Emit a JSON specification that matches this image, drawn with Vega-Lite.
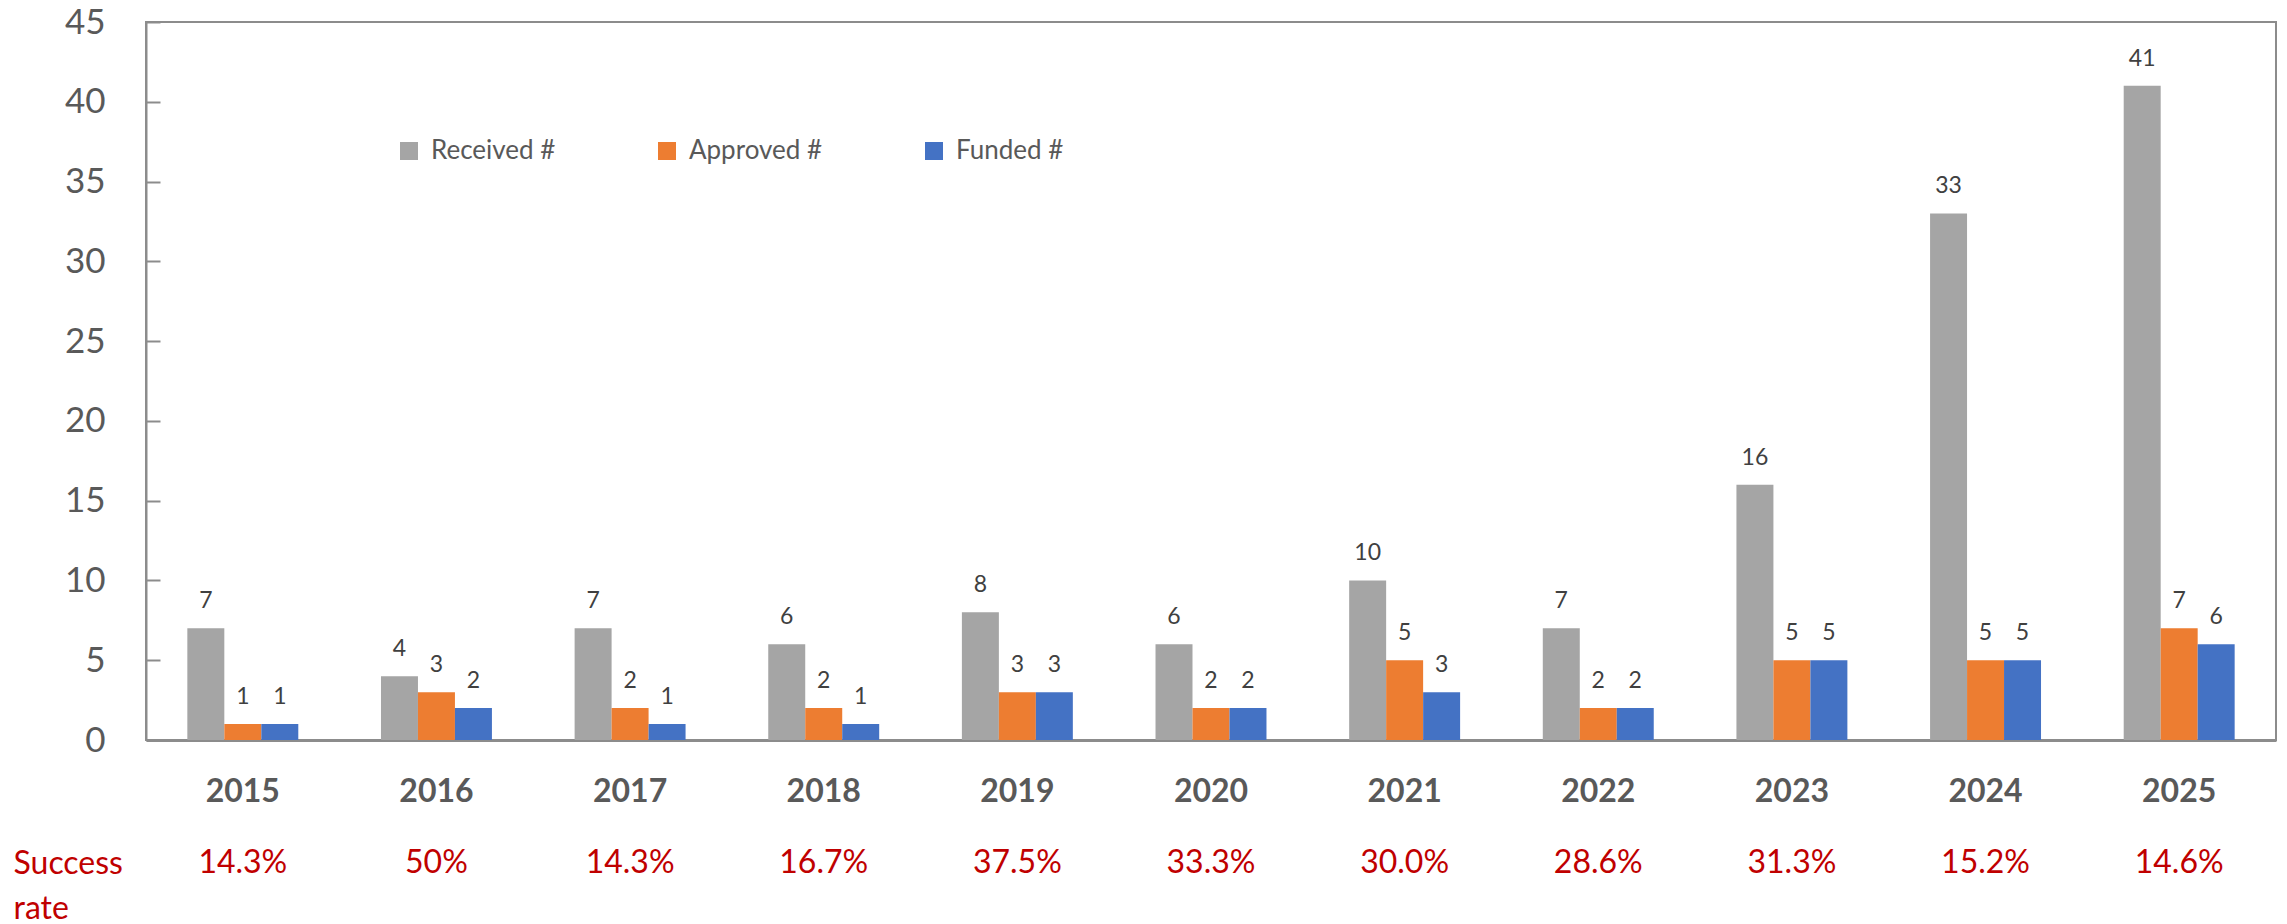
{
  "$schema": "https://vega.github.io/schema/vega-lite/v6.json",
  "padding": {"left": 13, "top": 4, "right": 5, "bottom": 2},
  "background": "white",
  "config": {"font": "Lato", "view": {"stroke": null}},
  "datasets": {
    "counts": [
      {"Year": "2015", "Series": "Received #", "Count": 7},
      {"Year": "2015", "Series": "Approved #", "Count": 1},
      {"Year": "2015", "Series": "Funded #", "Count": 1},
      {"Year": "2016", "Series": "Received #", "Count": 4},
      {"Year": "2016", "Series": "Approved #", "Count": 3},
      {"Year": "2016", "Series": "Funded #", "Count": 2},
      {"Year": "2017", "Series": "Received #", "Count": 7},
      {"Year": "2017", "Series": "Approved #", "Count": 2},
      {"Year": "2017", "Series": "Funded #", "Count": 1},
      {"Year": "2018", "Series": "Received #", "Count": 6},
      {"Year": "2018", "Series": "Approved #", "Count": 2},
      {"Year": "2018", "Series": "Funded #", "Count": 1},
      {"Year": "2019", "Series": "Received #", "Count": 8},
      {"Year": "2019", "Series": "Approved #", "Count": 3},
      {"Year": "2019", "Series": "Funded #", "Count": 3},
      {"Year": "2020", "Series": "Received #", "Count": 6},
      {"Year": "2020", "Series": "Approved #", "Count": 2},
      {"Year": "2020", "Series": "Funded #", "Count": 2},
      {"Year": "2021", "Series": "Received #", "Count": 10},
      {"Year": "2021", "Series": "Approved #", "Count": 5},
      {"Year": "2021", "Series": "Funded #", "Count": 3},
      {"Year": "2022", "Series": "Received #", "Count": 7},
      {"Year": "2022", "Series": "Approved #", "Count": 2},
      {"Year": "2022", "Series": "Funded #", "Count": 2},
      {"Year": "2023", "Series": "Received #", "Count": 16},
      {"Year": "2023", "Series": "Approved #", "Count": 5},
      {"Year": "2023", "Series": "Funded #", "Count": 5},
      {"Year": "2024", "Series": "Received #", "Count": 33},
      {"Year": "2024", "Series": "Approved #", "Count": 5},
      {"Year": "2024", "Series": "Funded #", "Count": 5},
      {"Year": "2025", "Series": "Received #", "Count": 41},
      {"Year": "2025", "Series": "Approved #", "Count": 7},
      {"Year": "2025", "Series": "Funded #", "Count": 6}
    ],
    "rates": [
      {"Year": "2015", "Metric": "Success rate", "Rate": "14.3%"},
      {"Year": "2016", "Metric": "Success rate", "Rate": "50%"},
      {"Year": "2017", "Metric": "Success rate", "Rate": "14.3%"},
      {"Year": "2018", "Metric": "Success rate", "Rate": "16.7%"},
      {"Year": "2019", "Metric": "Success rate", "Rate": "37.5%"},
      {"Year": "2020", "Metric": "Success rate", "Rate": "33.3%"},
      {"Year": "2021", "Metric": "Success rate", "Rate": "30.0%"},
      {"Year": "2022", "Metric": "Success rate", "Rate": "28.6%"},
      {"Year": "2023", "Metric": "Success rate", "Rate": "31.3%"},
      {"Year": "2024", "Metric": "Success rate", "Rate": "15.2%"},
      {"Year": "2025", "Metric": "Success rate", "Rate": "14.6%"}
    ]
  },
  "bounds": "flush",
  "spacing": 93,
  "vconcat": [
    {
      "width": 2130,
      "height": 718,
      "data": {"name": "counts"},
      "view": {"stroke": "#8c8c8c", "strokeWidth": 2},
      "encoding": {
        "x": {
          "field": "Year", "type": "nominal",
          "scale": {"type": "band", "paddingInner": 0.427, "paddingOuter": 0.2135},
          "axis": {"title": null, "labelAngle": 0, "labelFontSize": 32, "labelFontWeight": "bold", "labelColor": "#595959", "ticks": false, "domainColor": "#8c8c8c", "domainWidth": 3, "labelPadding": 36}
        },
        "xOffset": {"field": "Series", "type": "nominal", "sort": ["Received #", "Approved #", "Funded #"]},
        "y": {
          "field": "Count", "type": "quantitative",
          "scale": {"domain": [0, 45], "nice": false},
          "axis": {"title": null, "values": [0, 5, 10, 15, 20, 25, 30, 35, 40, 45], "grid": false, "labelFontSize": 35, "labelColor": "#595959", "domainColor": "#8c8c8c", "domainWidth": 2, "tickColor": "#8c8c8c", "tickWidth": 2, "tickSize": -14, "labelPadding": 55}
        }
      },
      "layer": [
        {
          "mark": {"type": "bar"},
          "encoding": {
            "color": {
              "field": "Series", "type": "nominal",
              "scale": {"domain": ["Received #", "Approved #", "Funded #"], "range": ["#A5A5A5", "#ED7D31", "#4472C4"]},
              "legend": {"orient": "none", "legendX": 250, "legendY": 116, "direction": "horizontal", "title": null, "symbolType": "square", "symbolSize": 324, "symbolStrokeWidth": 0, "labelFontSize": 26, "labelColor": "#595959", "labelOffset": 9, "columnPadding": 98, "labelLimit": 400}
            }
          }
        },
        {
          "mark": {"type": "text", "dy": -27, "baseline": "middle", "fontSize": 23, "color": "#404040"},
          "encoding": {"text": {"field": "Count", "type": "quantitative"}}
        }
      ]
    },
    {
      "width": 2130,
      "height": 60,
      "data": {"name": "rates"},
      "mark": {"type": "text", "fontSize": 32, "color": "#C00000", "baseline": "middle"},
      "encoding": {
        "x": {"field": "Year", "type": "nominal", "scale": {"type": "band", "paddingInner": 0.427, "paddingOuter": 0.2135}, "axis": null},
        "y": {
          "field": "Metric", "type": "nominal",
          "axis": {"title": null, "domain": false, "ticks": false, "labelExpr": "split(datum.label, ' ')", "labelAlign": "left", "labelPadding": 133, "labelFontSize": 32, "labelColor": "#C00000", "labelLineHeight": 45, "labelBaseline": "middle", "labelOffset": 0}
        },
        "text": {"field": "Rate"}
      }
    }
  ],
  "resolve": {"scale": {"x": "independent"}, "legend": {"color": "independent"}}
}
